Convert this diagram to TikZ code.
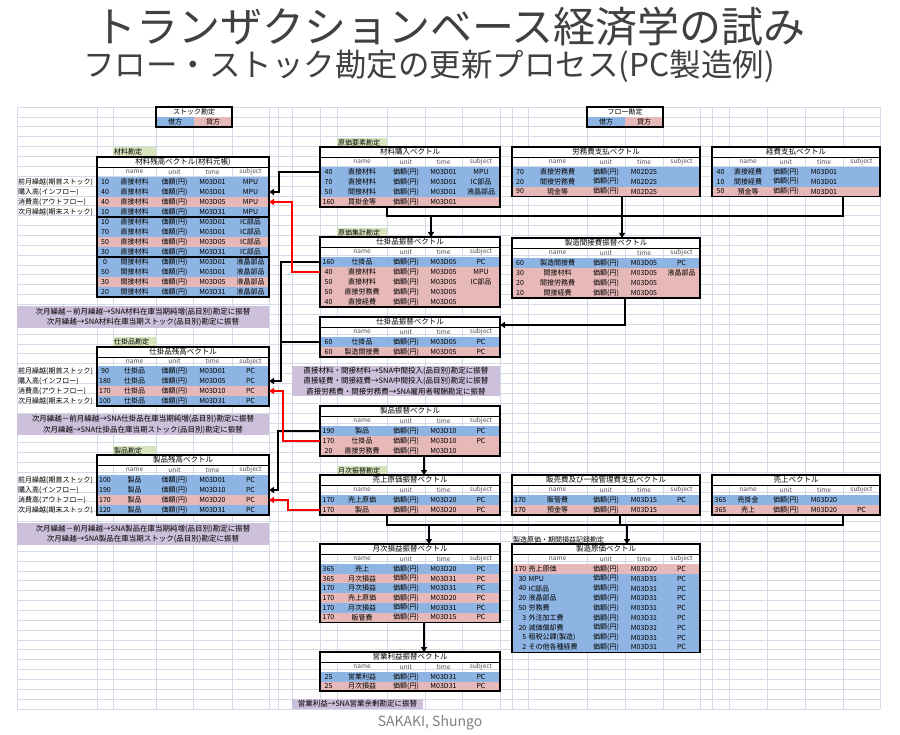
\documentclass[tikz,border=0pt]{standalone}
\usepackage{fontspec}
\setmainfont{Noto Sans CJK JP}
\usetikzlibrary{arrows.meta}
\definecolor{tb}{HTML}{8DB4E2}
\definecolor{tp}{HTML}{E6B8B7}
\definecolor{pu}{HTML}{CCC0DA}
\definecolor{lg}{HTML}{D8E4BC}
\definecolor{gridc}{HTML}{D3DAE8}
\definecolor{rdc}{HTML}{FF0000}
\tikzset{
  cell/.style={font=\fontsize{7}{8}\selectfont, inner sep=0pt},
  ttl/.style={font=\fontsize{7.5}{8}\selectfont, inner sep=0pt},
  hdr/.style={font=\fontsize{6.5}{7}\selectfont, inner sep=0pt, text=black!70},
  lbl/.style={font=\fontsize{7}{8}\selectfont, inner sep=0pt, anchor=west},
  note/.style={font=\fontsize{7.5}{10.5}\selectfont, inner sep=0pt, align=center},
  frame/.style={line width=1.2pt},
  gridl/.style={draw=gridc, line width=0.6pt},
  bk/.style={line width=2.4pt, -{Triangle[length=5pt,width=6pt]}},
  bkl/.style={line width=2.4pt},
  rd/.style={line width=2.2pt, draw=rdc, -{Triangle[length=5pt,width=6pt]}, rdc},
}
\newcommand\setcols[6]{\def\ca{#1}\def\cb{#2}\def\cc{#3}\def\cd{#4}\def\ce{#5}\def\cf{#6}}
\newcommand\ttitle[4]{%
  \fill[white] (\ca,#2) rectangle (\cf,#3);
  \draw[line width=0.8pt] (\ca,#3) -- (\cf,#3);
  \node[ttl] (#1) at ({(\ca+\cf)/2},{(#2+#3)/2}) {#4};}
\newcommand\thead[3]{%
  \node[hdr] (#1n) at ({(\cb+\cc)/2},{(#2+#3)/2}) {name};
  \node[hdr] (#1u) at ({(\cc+\cd)/2},{(#2+#3)/2}) {unit};
  \node[hdr] (#1t) at ({(\cd+\ce)/2},{(#2+#3)/2}) {time};
  \node[hdr] (#1s) at ({(\ce+\cf)/2},{(#2+#3)/2}) {subject};}
\newcommand\trow[9]{%
  \fill[#4] (\ca,#2) rectangle (\cf,#3);
  \node[cell] (#1v) at ({(\ca+\cb)/2},{(#2+#3)/2}) {#5};
  \node[cell] (#1n) at ({(\cb+\cc)/2},{(#2+#3)/2}) {#6};
  \node[cell] (#1u) at ({(\cc+\cd)/2},{(#2+#3)/2}) {#7};
  \node[cell] (#1t) at ({(\cd+\ce)/2},{(#2+#3)/2}) {#8};
  \node[cell] (#1s) at ({(\ce+\cf)/2},{(#2+#3)/2}) {#9};}
\newcommand\crow[9]{%
  \fill[#4] (\ca,#2) rectangle (\cf,#3);
  \node[cell,anchor=east] (#1v) at ({\cb-1.5},{(#2+#3)/2}) {#5};
  \node[cell,anchor=west] (#1n) at ({\cb+0.5},{(#2+#3)/2}) {#6};
  \node[cell] (#1u) at ({(\cc+\cd)/2},{(#2+#3)/2}) {#7};
  \node[cell] (#1t) at ({(\cd+\ce)/2},{(#2+#3)/2}) {#8};
  \node[cell] (#1s) at ({(\ce+\cf)/2},{(#2+#3)/2}) {#9};}
\newcommand\tframe[2]{\draw[frame] (\ca,#1) rectangle (\cf,#2);}
\def\yen{価額(円)}
\begin{document}
\begin{tikzpicture}[x=1pt,y=-1pt]
\useasboundingbox (0,0) rectangle (900,735);
\fill[white] (0,0) rectangle (900,735);
% titles
\node[font=\fontsize{42}{46}\selectfont, text=black!75, inner sep=0pt] (title1) at (450,27) {トランザクションベース経済学の試み};
\node[font=\fontsize{31.5}{34}\selectfont, text=black!75, inner sep=0pt] (title2) at (429,66) {フロー・ストック勘定の更新プロセス(PC製造例)};
\node[font=\fontsize{14}{16}\selectfont, text=black!50, inner sep=0pt] (author) at (430,723) {SAKAKI, Shungo};
% grid
\foreach \x in {17,97,113,156,193,232,269,278,292,320,337,387,425,462,500,512,528,587,625,663,700,712,729,767,805,843,880}
  \draw[gridl] (\x,107) -- (\x,709);
\foreach \k in {0,...,61}
  \draw[gridl] (17,{107+\k*9.86885}) -- (880,{107+\k*9.86885});

% ===== stock / flow legend boxes
\fill[white] (156,107) rectangle (232,117);
\fill[tb] (156,117) rectangle (194,127);
\fill[tp] (194,117) rectangle (232,127);
\draw[frame] (156,107) rectangle (232,127);
\node[cell] (stk) at (194,112) {ストック勘定};
\node[cell] (stkD) at (175,122) {借方};
\node[cell] (stkC) at (213,122) {貸方};
\fill[white] (587,107) rectangle (663,117);
\fill[tb] (587,117) rectangle (625,127);
\fill[tp] (625,117) rectangle (663,127);
\draw[frame] (587,107) rectangle (663,127);
\node[cell] (flw) at (625,112) {フロー勘定};
\node[cell] (flwD) at (606,122) {借方};
\node[cell] (flwC) at (644,122) {貸方};

% ===== left column
\setcols{97}{113}{156}{193}{232}{269}
\fill[lg] (113,147.5) rectangle (156,156.5);
\node[lbl] (lblMat) at (114,152) {材料勘定};
\ttitle{M}{157}{167}{材料残高ベクトル(材料元帳)}
\thead{Mh}{167}{177}
\trow{Ma}{177}{187}{tb}{10}{直接材料}{\yen}{M03D01}{MPU}
\trow{Mb}{187}{197}{tb}{40}{直接材料}{\yen}{M03D01}{MPU}
\trow{Mc}{197}{207}{tp}{40}{直接材料}{\yen}{M03D05}{MPU}
\trow{Md}{207}{217}{tb}{10}{直接材料}{\yen}{M03D31}{MPU}
\trow{Me}{217}{227}{tb}{10}{直接材料}{\yen}{M03D01}{IC部品}
\trow{Mf}{227}{237}{tb}{70}{直接材料}{\yen}{M03D01}{IC部品}
\trow{Mg}{237}{247}{tp}{50}{直接材料}{\yen}{M03D05}{IC部品}
\trow{Mh}{247}{257}{tb}{30}{直接材料}{\yen}{M03D31}{IC部品}
\trow{Mi}{257}{267}{tb}{0}{間接材料}{\yen}{M03D01}{液晶部品}
\trow{Mj}{267}{277}{tb}{50}{間接材料}{\yen}{M03D01}{液晶部品}
\trow{Mk}{277}{287}{tp}{30}{間接材料}{\yen}{M03D05}{液晶部品}
\trow{Ml}{287}{297}{tb}{20}{間接材料}{\yen}{M03D31}{液晶部品}
\draw[frame] (97,217) -- (269,217);
\draw[frame] (97,257) -- (269,257);
\tframe{157}{297}
\node[lbl] (mL1) at (18,182) {前月繰越(期首ストック)};
\node[lbl] (mL2) at (18,192) {購入高(インフロー)};
\node[lbl] (mL3) at (18,202) {消費高(アウトフロー)};
\node[lbl] (mL4) at (18,212) {次月繰越(期末ストック)};
\fill[pu] (17,306) rectangle (269,328);
\node[note] (note1) at (143,317) {次月繰越－前月繰越→SNA材料在庫当期純増(品目別)勘定に振替\\次月繰越→SNA材料在庫当期ストック(品目別)勘定に振替};

\fill[lg] (113,337.5) rectangle (156,346.5);
\node[lbl] (lblWip) at (114,342) {仕掛品勘定};
\ttitle{W}{347}{357}{仕掛品残高ベクトル}
\thead{Wh}{357}{366}
\trow{Wa}{366}{376}{tb}{90}{仕掛品}{\yen}{M03D01}{PC}
\trow{Wb}{376}{386}{tb}{180}{仕掛品}{\yen}{M03D05}{PC}
\trow{Wc}{386}{396}{tp}{170}{仕掛品}{\yen}{M03D10}{PC}
\trow{Wd}{396}{406}{tb}{100}{仕掛品}{\yen}{M03D31}{PC}
\tframe{347}{406}
\node[lbl] (wL1) at (18,371) {前月繰越(期首ストック)};
\node[lbl] (wL2) at (18,381) {購入高(インフロー)};
\node[lbl] (wL3) at (18,391) {消費高(アウトフロー)};
\node[lbl] (wL4) at (18,401) {次月繰越(期末ストック)};
\fill[pu] (17,414) rectangle (269,435);
\node[note] (note2) at (143,424.5) {次月繰越－前月繰越→SNA仕掛品在庫当期純増(品目別)勘定に振替\\次月繰越→SNA仕掛品在庫当期ストック(品目別)勘定に振替};

\fill[lg] (113,446) rectangle (156,455);
\node[lbl] (lblPrd) at (114,450.5) {製品勘定};
\ttitle{P}{455}{465}{製品残高ベクトル}
\thead{Ph}{465}{475}
\trow{Pa}{475}{485}{tb}{100}{製品}{\yen}{M03D01}{PC}
\trow{Pb}{485}{495}{tb}{190}{製品}{\yen}{M03D10}{PC}
\trow{Pc}{495}{505}{tp}{170}{製品}{\yen}{M03D20}{PC}
\trow{Pd}{505}{515}{tb}{120}{製品}{\yen}{M03D31}{PC}
\tframe{455}{515}
\node[lbl] (pL1) at (18,480) {前月繰越(期首ストック)};
\node[lbl] (pL2) at (18,490) {購入高(インフロー)};
\node[lbl] (pL3) at (18,500) {消費高(アウトフロー)};
\node[lbl] (pL4) at (18,510) {次月繰越(期末ストック)};
\fill[pu] (17,523) rectangle (269,545);
\node[note] (note3) at (143,534) {次月繰越－前月繰越→SNA製品在庫当期純増(品目別)勘定に振替\\次月繰越→SNA製品在庫当期ストック(品目別)勘定に振替};

% ===== middle column
\setcols{320}{337}{387}{425}{462}{500}
\fill[lg] (337,138) rectangle (387,147);
\node[lbl] (lblCost) at (338,142.5) {原価要素勘定};
\ttitle{B}{147}{157}{材料購入ベクトル}
\thead{Bh}{157}{167}
\trow{Ba}{167}{177}{tb}{40}{直接材料}{\yen}{M03D01}{MPU}
\trow{Bb}{177}{187}{tb}{70}{直接材料}{\yen}{M03D01}{IC部品}
\trow{Bc}{187}{197}{tb}{50}{間接材料}{\yen}{M03D01}{液晶部品}
\trow{Bd}{197}{207}{tp}{160}{買掛金等}{\yen}{M03D01}{}
\tframe{147}{207}

\fill[lg] (337,228) rectangle (387,237);
\node[lbl] (lblSum) at (338,232.5) {原価集計勘定};
\ttitle{S}{237}{247}{仕掛品振替ベクトル}
\thead{Sh}{247}{257}
\trow{Sa}{257}{267}{tb}{160}{仕掛品}{\yen}{M03D05}{PC}
\trow{Sb}{267}{277}{tp}{40}{直接材料}{\yen}{M03D05}{MPU}
\trow{Sc}{277}{287}{tp}{50}{直接材料}{\yen}{M03D05}{IC部品}
\trow{Sd}{287}{297}{tp}{50}{直接労務費}{\yen}{M03D05}{}
\trow{Se}{297}{307}{tp}{40}{直接経費}{\yen}{M03D05}{}
\tframe{237}{307}

\ttitle{T}{317}{327}{仕掛品振替ベクトル}
\thead{Th}{327}{337}
\trow{Ta}{337}{347}{tb}{60}{仕掛品}{\yen}{M03D05}{PC}
\trow{Tb}{347}{357}{tp}{60}{製造間接費}{\yen}{M03D05}{PC}
\tframe{317}{357}
\fill[pu] (292,366) rectangle (500,396);
\node[note] (note4) at (396,381) {直接材料・間接材料→SNA中間投入(品目別)勘定に振替\\直接経費・間接経費→SNA中間投入(品目別)勘定に振替\\直接労務費・間接労務費→SNA雇用者報酬勘定に振替};

\ttitle{G}{406}{416}{製品振替ベクトル}
\thead{Gh}{416}{426}
\trow{Ga}{426}{436}{tb}{190}{製品}{\yen}{M03D10}{PC}
\trow{Gb}{436}{446}{tp}{170}{仕掛品}{\yen}{M03D10}{PC}
\trow{Gc}{446}{456}{tp}{20}{直接労務費}{\yen}{M03D10}{}
\tframe{406}{456}

\fill[lg] (337,466) rectangle (387,475);
\node[lbl] (lblMon) at (338,470.5) {月次振替勘定};
\ttitle{U}{475}{485}{売上原価振替ベクトル}
\thead{Uh}{485}{495}
\trow{Ua}{495}{505}{tb}{170}{売上原価}{\yen}{M03D20}{PC}
\trow{Ub}{505}{515}{tp}{170}{製品}{\yen}{M03D20}{PC}
\tframe{475}{515}

\ttitle{L}{544}{554}{月次損益振替ベクトル}
\thead{Lh}{554}{564}
\trow{La}{564}{573.7}{tb}{365}{売上}{\yen}{M03D20}{PC}
\trow{Lb}{573.7}{583.4}{tp}{365}{月次損益}{\yen}{M03D31}{PC}
\trow{Lc}{583.4}{593.1}{tb}{170}{月次損益}{\yen}{M03D31}{PC}
\trow{Ld}{593.1}{602.8}{tp}{170}{売上原価}{\yen}{M03D20}{PC}
\trow{Le}{602.8}{612.5}{tb}{170}{月次損益}{\yen}{M03D31}{PC}
\trow{Lf}{612.5}{622.2}{tp}{170}{販管費}{\yen}{M03D15}{PC}
\tframe{544}{622.2}

\ttitle{O}{652}{662}{営業利益振替ベクトル}
\thead{Oh}{662}{672}
\trow{Oa}{672}{681.5}{tb}{25}{営業利益}{\yen}{M03D31}{PC}
\trow{Ob}{681.5}{691}{tp}{25}{月次損益}{\yen}{M03D31}{PC}
\tframe{652}{691}
\fill[pu] (292,699) rectangle (423,709);
\node[note] (note5) at (357.5,704) {営業利益→SNA営業余剰勘定に振替};

% ===== right column
\setcols{512}{528}{587}{625}{663}{700}
\ttitle{R}{147}{157}{労務費支払ベクトル}
\thead{Rh}{157}{167}
\trow{Ra}{167}{176.8}{tb}{70}{直接労務費}{\yen}{M02D25}{}
\trow{Rb}{176.8}{186.6}{tb}{20}{間接労務費}{\yen}{M02D25}{}
\trow{Rc}{186.6}{196.4}{tp}{90}{現金等}{\yen}{M02D25}{}
\tframe{147}{196.4}

\ttitle{I}{238}{248}{製造間接費振替ベクトル}
\thead{Ih}{248}{258}
\trow{Ia}{258}{268}{tb}{60}{製造間接費}{\yen}{M03D05}{PC}
\trow{Ib}{268}{278}{tp}{30}{間接材料}{\yen}{M03D05}{液晶部品}
\trow{Ic}{278}{288}{tp}{20}{間接労務費}{\yen}{M03D05}{}
\trow{Id}{288}{298}{tp}{10}{間接経費}{\yen}{M03D05}{}
\tframe{238}{298}

\ttitle{H}{475}{485}{販売費及び一般管理費支払ベクトル}
\thead{Hh}{485}{495}
\trow{Ha}{495}{505}{tb}{170}{販管費}{\yen}{M03D15}{PC}
\trow{Hb}{505}{515}{tp}{170}{預金等}{\yen}{M03D15}{}
\tframe{475}{515}

\node[lbl] (lblMfg) at (513,539.5) {製造原価・期間損益記録勘定};
\ttitle{C}{544}{554}{製造原価ベクトル}
\thead{Ch}{554}{564}
\crow{Ca}{564}{573.8}{tp}{170}{売上原価}{\yen}{M03D20}{PC}
\crow{Cb}{573.8}{583.6}{tb}{30}{MPU}{\yen}{M03D31}{PC}
\crow{Cc}{583.6}{593.4}{tb}{40}{IC部品}{\yen}{M03D31}{PC}
\crow{Cd}{593.4}{603.2}{tb}{20}{液晶部品}{\yen}{M03D31}{PC}
\crow{Ce}{603.2}{613}{tb}{50}{労務費}{\yen}{M03D31}{PC}
\crow{Cf}{613}{622.8}{tb}{3}{外注加工費}{\yen}{M03D31}{PC}
\crow{Cg}{622.8}{632.6}{tb}{20}{減価償却費}{\yen}{M03D31}{PC}
\crow{Ch}{632.6}{642.4}{tb}{5}{租税公課(製造)}{\yen}{M03D31}{PC}
\crow{Ci}{642.4}{652.2}{tb}{2}{その他各種経費}{\yen}{M03D31}{PC}
\tframe{544}{652.2}

\setcols{712}{729}{767}{805}{843}{880}
\ttitle{K}{147}{157}{経費支払ベクトル}
\thead{Kh}{157}{167}
\trow{Ka}{167}{176.8}{tb}{40}{直接経費}{\yen}{M03D01}{}
\trow{Kb}{176.8}{186.6}{tb}{10}{間接経費}{\yen}{M03D01}{}
\trow{Kc}{186.6}{196.4}{tp}{50}{預金等}{\yen}{M03D01}{}
\tframe{147}{196.4}

\ttitle{Y}{475}{485}{売上ベクトル}
\thead{Yh}{485}{495}
\trow{Ya}{495}{505}{tb}{365}{売掛金}{\yen}{M03D20}{}
\trow{Yb}{505}{515}{tp}{365}{売上}{\yen}{M03D20}{PC}
\tframe{475}{515}

% ===== connector end points
\coordinate (buyOut) at (320,172);
\coordinate (matIn) at (269,192);
\coordinate (s1Mat) at (320,272);
\coordinate (matOut) at (269,202);
\coordinate (s1Wip) at (320,262);
\coordinate (s2Wip) at (320,342);
\coordinate (wipIn) at (269,381);
\coordinate (gWip) at (320,441);
\coordinate (wipOut) at (269,391);
\coordinate (gPrd) at (320,431);
\coordinate (prdIn) at (269,490);
\coordinate (uPrd) at (320,510);
\coordinate (prdOut) at (269,500);
\coordinate (buyBot) at (387,207);
\coordinate (rouBot) at (622,196.4);
\coordinate (keiBot) at (843,196.4);
\coordinate (bus1a) at (387,216);
\coordinate (bus1b) at (843,216);
\coordinate (s1Top) at (431,237);
\coordinate (indTop) at (622,238);
\coordinate (indBot) at (625,298);
\coordinate (s2In) at (500,325);
\coordinate (gBot) at (424,456);
\coordinate (uTop) at (424,475);
\coordinate (uBot) at (387,515);
\coordinate (hanBot) at (620,515);
\coordinate (salBot) at (843,515);
\coordinate (bus2a) at (387,525);
\coordinate (bus2b) at (843,525);
\coordinate (lTop) at (429,544);
\coordinate (cTop) at (627,544);
\coordinate (lBot) at (424,622.2);
\coordinate (oTop) at (424,652);

% ===== connectors
\draw[bk] (buyOut) -- (279,172) |- (matIn);
\draw[bk] (s1Wip) -- (281,262) |- (wipIn);
\draw[bkl] (s2Wip) -- (281,342);
\draw[bk] (gPrd) -- (278,431) |- (prdIn);
\draw[rd] (s1Mat) -- (292,272) |- (matOut);
\draw[rd] (gWip) -- (283,441) |- (wipOut);
\draw[rd] (uPrd) -- (288,510) |- (prdOut);
\draw[bkl] (buyBot) -- (bus1a) -- (bus1b) -- (keiBot);
\draw[bkl] (rouBot) -- (622,216);
\draw[bk] (622,216) -- (indTop);
\draw[bk] (431,216) -- (s1Top);
\draw[bk] (indBot) -- (625,325) -- (s2In);
\draw[bk] (gBot) -- (uTop);
\draw[bkl] (uBot) -- (bus2a) -- (bus2b) -- (salBot);
\draw[bkl] (hanBot) -- (620,525);
\draw[bk] (627,525) -- (cTop);
\draw[bk] (429,525) -- (lTop);
\draw[bk] (lBot) -- (oTop);
\end{tikzpicture}
\end{document}
